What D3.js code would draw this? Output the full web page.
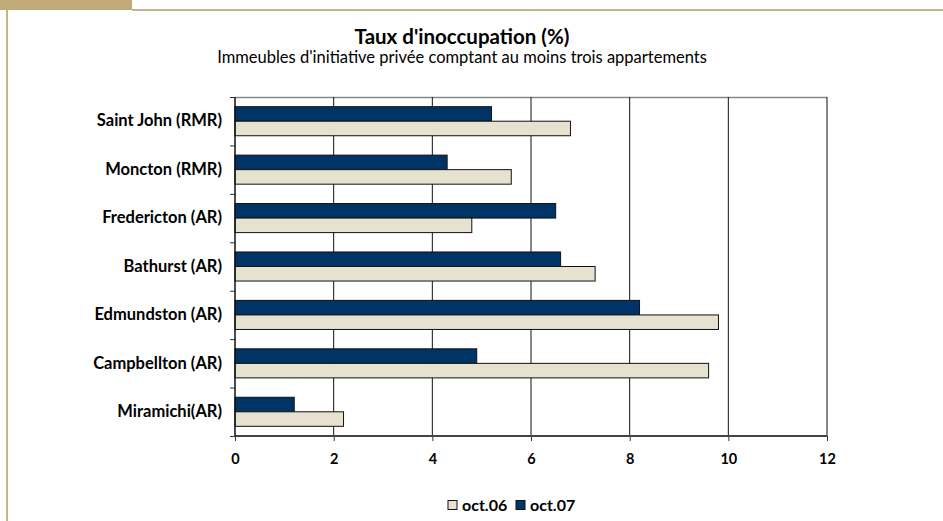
<!DOCTYPE html>
<html>
<head>
<meta charset="utf-8">
<script src="https://cdn.jsdelivr.net/npm/d3@7"></script>
<style>
  body { margin: 0; background: #fff; }
  text { font-family: Lato, "Open Sans", sans-serif; fill: #000; }
  .eje path { display: none; }
  .eje text { font-weight: bold; font-size: 14.5px; }
</style>
</head>
<body>
<div id="graf"></div>
<script>
// Donnees du graphique
categories = ['Saint John (RMR)', 'Moncton (RMR)', 'Fredericton (AR)', 'Bathurst (AR)', 'Edmundston (AR)', 'Campbellton (AR)', 'Miramichi(AR)']
series     = ['oct.07', 'oct.06']
valOct07   = [5.2, 4.3, 6.5, 6.6, 8.2, 4.9, 1.2]
valOct06   = [6.8, 5.6, 4.8, 7.3, 9.8, 9.6, 2.2]
ticksX     = [0, 2, 4, 6, 8, 10, 12]
legende    = ['oct.06', 'oct.07']
couleurs   = { 'oct.06': '#e7e2d0', 'oct.07': '#003366' }

anchoTotal = 943
altoTotal  = 521
margen = { superior: 97, izquierdo: 235, derecho: 116, inferior: 85 }
ancho = anchoTotal - margen.izquierdo - margen.derecho
alto  = altoTotal - margen.superior - margen.inferior

svg = d3.select('#graf').append('svg')
        .attr('width', anchoTotal)
        .attr('height', altoTotal)

// Decoration du cadre (onglet + filets beiges)
svg.append('rect').attr('x', 0).attr('y', 0).attr('width', 132).attr('height', 10).attr('fill', '#bfaa78')
svg.append('rect').attr('x', 132).attr('y', 9).attr('width', anchoTotal - 132).attr('height', 2).attr('fill', '#c6b58a')
svg.append('rect').attr('x', 6).attr('y', 10).attr('width', 2).attr('height', altoTotal - 10).attr('fill', '#c6b58a')

// Titres
svg.append('text').attr('x', 462).attr('y', 44).attr('text-anchor', 'middle')
   .style('font-weight', 'bold').style('font-size', '20.5px').text("Taux d'inoccupation (%)")
svg.append('text').attr('x', 462).attr('y', 63).attr('text-anchor', 'middle')
   .style('font-size', '16.5px').text("Immeubles d'initiative privée comptant au moins trois appartements")

g = svg.append('g').attr('transform', `translate(${ margen.izquierdo }, ${ margen.superior })`)

// Echelles
x = d3.scaleLinear().domain([0, 12]).range([0, ancho])
y = d3.scaleBand().domain(categories).range([0, alto]).paddingInner(0.4).paddingOuter(0.2)
ySerie = d3.scaleBand().domain(series).range([0, y.bandwidth()])
yBordes = d3.scaleLinear().domain([0, categories.length]).range([0, alto])

// Bordure superieure du trace
g.append('line').attr('x1', 0).attr('x2', ancho).attr('y1', 0.5).attr('y2', 0.5)
 .attr('stroke', '#888').attr('stroke-width', 1.5)

// Quadrillage vertical
g.selectAll('.grille').data(ticksX.slice(1)).enter().append('line')
 .attr('class', 'grille')
 .attr('x1', d => x(d)).attr('x2', d => x(d))
 .attr('y1', 0).attr('y2', alto)
 .attr('stroke', '#111').attr('stroke-width', 1)

// Barres
donnees = []
categories.forEach((c, i) => {
  donnees.push({ cat: c, serie: 'oct.07', val: valOct07[i] })
  donnees.push({ cat: c, serie: 'oct.06', val: valOct06[i] })
})

g.selectAll('.barre').data(donnees).enter().append('rect')
 .attr('class', 'barre')
 .attr('x', 0)
 .attr('y', d => y(d.cat) + ySerie(d.serie))
 .attr('width', d => x(d.val))
 .attr('height', ySerie.bandwidth())
 .attr('fill', d => couleurs[d.serie])
 .attr('stroke', '#111')
 .attr('stroke-width', 1)

// Axe X
xAxisGroup = g.append('g').attr('class', 'eje').attr('transform', `translate(0, ${ alto })`)
xAxisGroup.call(d3.axisBottom(x).tickValues(ticksX).tickSize(5).tickPadding(13))
xAxisGroup.selectAll('line').attr('stroke', '#333')
g.append('line').attr('x1', 0).attr('x2', ancho).attr('y1', alto).attr('y2', alto)
 .attr('stroke', '#444').attr('stroke-width', 2)

// Axe Y : graduations aux limites des categories
g.append('g').call(d3.axisLeft(yBordes).ticks(categories.length).tickSize(5).tickFormat(''))
 .call(s => s.select('.domain').remove())
 .selectAll('line').attr('stroke', '#333')
yAxisGroup = g.append('g').attr('class', 'eje')
yAxisGroup.call(d3.axisLeft(y).tickSize(0).tickPadding(13))
yAxisGroup.selectAll('text').style('font-size', '16.5px')
g.append('line').attr('x1', 0).attr('x2', 0).attr('y1', 0).attr('y2', alto)
 .attr('stroke', '#111').attr('stroke-width', 1.5)

// Legende
leg = svg.append('g').attr('transform', 'translate(448, 505)')
posLeg = [0, 68]
legende.forEach((s, i) => {
  leg.append('rect').attr('x', posLeg[i]).attr('y', -4.5).attr('width', 9).attr('height', 9)
     .attr('fill', couleurs[s]).attr('stroke', '#111').attr('stroke-width', 1)
  leg.append('text').attr('x', posLeg[i] + 14).attr('y', 5.5)
     .style('font-weight', 'bold').style('font-size', '16px').text(s)
})
</script>
</body>
</html>
